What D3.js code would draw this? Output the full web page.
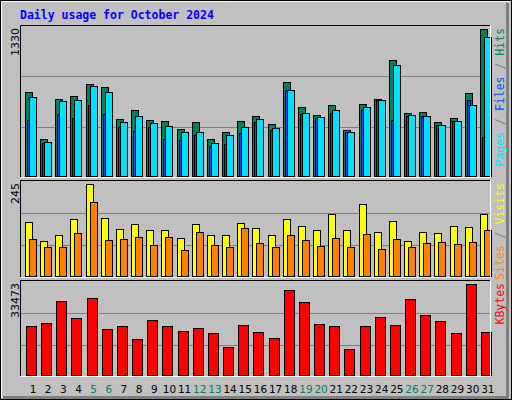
<!DOCTYPE html><html><head><script src="https://cdn.jsdelivr.net/npm/d3@7"></script>
<style>body{margin:0;background:#fff}</style></head><body><svg id="c" width="512" height="400"></svg>
<script>
const days=d3.range(1,32);
const weekend=[5,6,12,13,19,20,26,27];
const hits=[761,337,698,725,833,806,518,599,509,500,428,491,337,400,500,545,473,851,626,554,644,419,653,698,1050,572,581,491,527,752,1330];
const files=[716,310,680,689,815,761,491,545,482,455,400,400,301,373,446,518,437,779,572,536,599,400,626,689,1005,554,545,464,500,644,1257];
const pages=[509,301,563,527,644,563,446,410,446,337,328,373,274,292,391,491,419,779,563,527,572,400,599,689,509,545,545,464,500,689,355];
const visits=[144,93,109,152,245,154,125,138,122,122,101,138,109,109,141,128,109,152,133,122,165,122,192,117,146,93,117,114,133,130,165];
const sites=[99,77,77,114,197,96,99,104,83,104,69,117,83,77,128,88,77,109,96,80,101,77,112,72,99,77,88,91,85,91,122];
const kbytes=[18090,19190,27246,21020,28345,16992,18090,13330,20288,18090,16260,17358,15527,10400,18457,15893,13696,31274,26880,18823,18090,9668,18090,21386,18457,27978,22119,19922,15527,33473,15893];
const svg=d3.select("#c");
svg.append("rect").attr("x",0.5).attr("y",0.5).attr("width",511).attr("height",399).attr("fill","#c0c0c0").attr("stroke","#000");
svg.append("path").attr("d","M1.5,398V1.5H510").attr("stroke","#fff").attr("fill","none");
svg.append("path").attr("d","M3,397.5H507.5V3").attr("stroke","#808080").attr("fill","none").attr("stroke-width",3);
svg.append("text").attr("x",20).attr("y",19).text("Daily usage for October 2024").attr("font-family","DejaVu Sans Mono").attr("font-weight","bold").attr("font-size",11.5).attr("fill","#0000ff");
const x=d3.scaleBand().domain(days).range([20,490]);
function panel(top,bot,max,maxPx,series,label,rl){
  const y=d3.scaleLinear().domain([0,max]).range([bot,bot-maxPx]);
  const g=svg.append("g");
  [max*0.335,max*0.68].forEach(v=>g.append("line").attr("x1",21).attr("x2",490).attr("y1",Math.round(y(v))+0.5).attr("y2",Math.round(y(v))+0.5).attr("stroke","#808080"));
  series.forEach(s=>{
    g.selectAll(null).data(s.data).enter().append("rect")
     .attr("x",(d,i)=>Math.round(x(days[i]))+s.off+0.5).attr("width",s.w)
     .attr("y",d=>Math.round(y(d))+0.5).attr("height",d=>bot-Math.round(y(d)))
     .attr("fill",s.c).attr("stroke",s.noStroke?"none":"#000");
  });
  g.append("path").attr("d",`M20.5,${bot+1}V${top+0.5}H490`).attr("stroke","#000").attr("fill","none");
  g.append("path").attr("d",`M20.5,${bot+1.5}H490.5V${top}`).attr("stroke","#fff").attr("fill","none");
  g.append("text").attr("transform",`translate(19,${top+3}) rotate(-90)`).attr("text-anchor","end").attr("font-family","DejaVu Sans").attr("font-size",11).text(d3.format("d")(max));
  const t=g.append("text").attr("transform",`translate(504,${top+3}) rotate(-90)`).attr("text-anchor","end").attr("font-family","DejaVu Sans Mono").attr("font-size",11.5);
  rl.forEach(([s,c])=>t.append("tspan").text(s).attr("fill",c));
}
panel(25,176,1330,147,[
 {data:hits,off:5,w:7,c:"#00805c"},
 {data:pages,off:7,w:3,c:"#0050ff"},
 {data:files,off:9,w:7,c:"#00e0ff"}],"",[["Pages","#00e0ff"],[" / ","#808080"],["Files","#0050ff"],[" / ","#808080"],["Hits","#00805c"]]);
panel(180,276,245,92,[
 {data:visits,off:5,w:7,c:"#ffff00"},
 {data:sites,off:9,w:7,c:"#ff8000"}],"",[["Sites","#ff8000"],[" / ","#808080"],["Visits","#ffff00"]]);
panel(280,375,33473,91,[
 {data:kbytes,off:6,w:10,c:"#ff0000"}],"",[["KBytes","#ff0000"]]);
svg.selectAll(".d").data(days).enter().append("text").attr("x",d=>x(d)+13).attr("y",393).attr("text-anchor","middle")
 .attr("font-family","DejaVu Sans").attr("font-size",10.5).attr("fill",d=>weekend.includes(d)?"#00805c":"#000").text(d=>d);
</script></body></html>
